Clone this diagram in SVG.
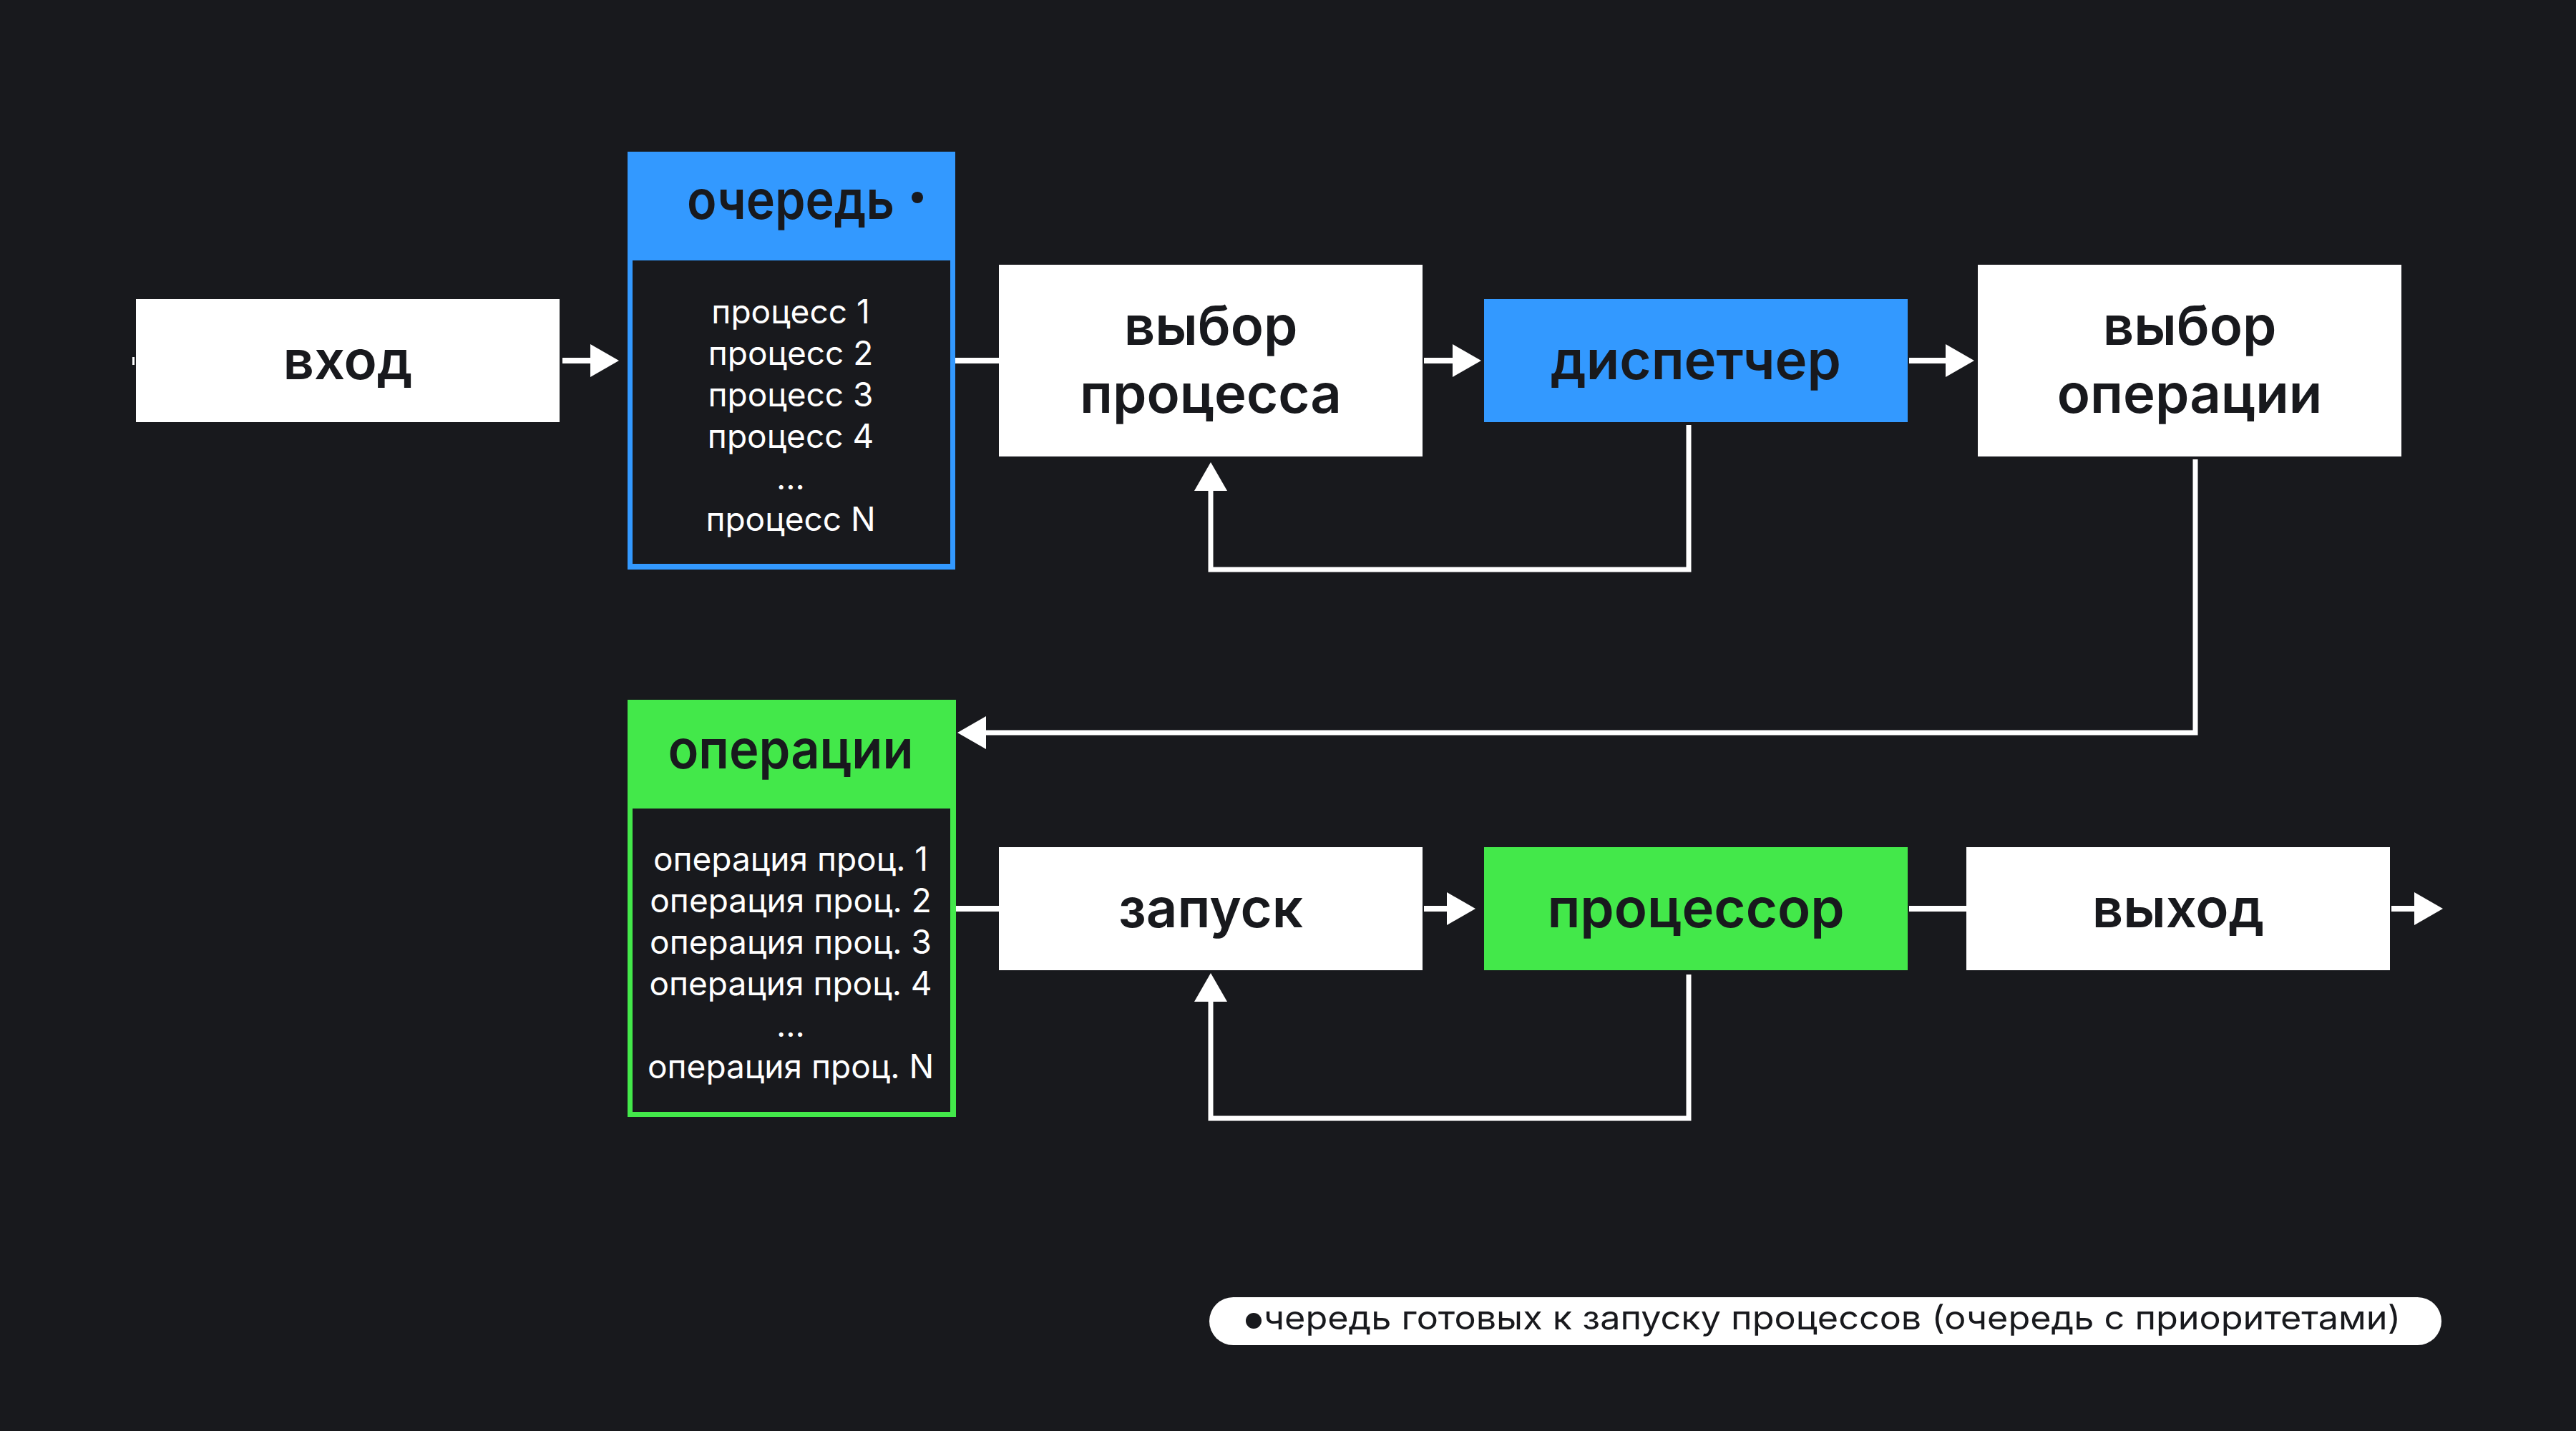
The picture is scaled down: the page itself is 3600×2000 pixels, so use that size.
<svg xmlns="http://www.w3.org/2000/svg" width="3600" height="2000" viewBox="0 0 3600 2000">
<defs>
<marker id="ah" markerUnits="userSpaceOnUse" markerWidth="40" markerHeight="46" refX="30" refY="23" orient="auto">
<path d="M0,0 L40,23 L0,46 Z" fill="#ffffff"/>
</marker>
<style>
.bg{fill:#18191d}
.wb{fill:#ffffff}
.blue{fill:#3399ff}
.green{fill:#43e84a}
.t{font-family:Inter,"Noto Sans",sans-serif;font-size:76px;font-weight:600;fill:#18191d;text-anchor:middle}
.it{font-family:Inter,"Noto Sans",sans-serif;font-size:46px;font-weight:400;fill:#ffffff;text-anchor:middle}
.fn{font-family:Inter,"Noto Sans",sans-serif;font-size:46px;font-weight:400;fill:#18191d}
.c{fill:none;stroke:#ffffff;stroke-width:8}
.l{fill:none;stroke:#ffffff;stroke-width:7}
</style>
</defs>
<rect class="bg" x="0" y="0" width="3600" height="2000"/>

<g id="connectors">
<rect x="185" y="499" width="3" height="11" fill="#ffffff"/>
<path class="c" d="M786 504 H855" marker-end="url(#ah)"/>
<path class="c" d="M1335 504 H1396"/>
<path class="c" d="M1990 504 H2060" marker-end="url(#ah)"/>
<path class="c" d="M2668 504 H2749" marker-end="url(#ah)"/>
<path class="l" d="M2360 594 V796 H1692 V656" marker-end="url(#ah)"/>
<path class="l" d="M3068 642 V1024 H1348" marker-end="url(#ah)"/>
<path class="c" d="M1336 1270 H1396"/>
<path class="c" d="M1990 1270 H2052" marker-end="url(#ah)"/>
<path class="c" d="M2668 1270 H2748"/>
<path class="c" d="M3342 1270 H3404" marker-end="url(#ah)"/>
<path class="l" d="M2360 1362 V1563 H1692 V1370" marker-end="url(#ah)"/>
</g>

<g id="vhod">
<rect class="wb" x="190" y="418" width="592" height="172"/>
<text class="t" x="486" y="530">вход</text>
</g>

<g id="ochered">
<rect class="blue" x="877" y="212" width="458" height="584"/>
<rect class="bg" x="884" y="364" width="444" height="424"/>
<text class="t" x="1105" y="306" textLength="290" lengthAdjust="spacingAndGlyphs">очередь</text>
<circle cx="1282" cy="276" r="8" fill="#18191d"/>
<text class="it" x="1105" y="452">процесс 1</text>
<text class="it" x="1105" y="510">процесс 2</text>
<text class="it" x="1105" y="568">процесс 3</text>
<text class="it" x="1105" y="626">процесс 4</text>
<text class="it" x="1105" y="684">...</text>
<text class="it" x="1105" y="742">процесс N</text>
</g>

<g id="vybor-processa">
<rect class="wb" x="1396" y="370" width="592" height="268"/>
<text class="t" x="1692" y="482">выбор</text>
<text class="t" x="1692" y="577">процесса</text>
</g>

<g id="dispetcher">
<rect class="blue" x="2074" y="418" width="592" height="172"/>
<text class="t" x="2370" y="530">диспетчер</text>
</g>

<g id="vybor-operacii">
<rect class="wb" x="2764" y="370" width="592" height="268"/>
<text class="t" x="3060" y="482">выбор</text>
<text class="t" x="3060" y="577">операции</text>
</g>

<g id="operacii">
<rect class="green" x="877" y="978" width="459" height="583"/>
<rect class="bg" x="884" y="1130" width="444" height="424"/>
<text class="t" x="1105" y="1074" textLength="343" lengthAdjust="spacingAndGlyphs">операции</text>
<text class="it" x="1105" y="1217">операция проц. 1</text>
<text class="it" x="1105" y="1275">операция проц. 2</text>
<text class="it" x="1105" y="1333">операция проц. 3</text>
<text class="it" x="1105" y="1391">операция проц. 4</text>
<text class="it" x="1105" y="1449">...</text>
<text class="it" x="1105" y="1507">операция проц. N</text>
</g>

<g id="zapusk">
<rect class="wb" x="1396" y="1184" width="592" height="172"/>
<text class="t" x="1692" y="1296">запуск</text>
</g>

<g id="processor">
<rect class="green" x="2074" y="1184" width="592" height="172"/>
<text class="t" x="2370" y="1296">процессор</text>
</g>

<g id="vyhod">
<rect class="wb" x="2748" y="1184" width="592" height="172"/>
<text class="t" x="3044" y="1296">выход</text>
</g>

<g id="footnote">
<rect class="wb" x="1690" y="1813" width="1722" height="67" rx="33.5"/>
<circle cx="1752" cy="1846" r="11" fill="#18191d"/>
<text class="fn" x="1766" y="1858" textLength="1589" lengthAdjust="spacingAndGlyphs">чередь готовых к запуску процессов (очередь с приоритетами)</text>
</g>
</svg>
